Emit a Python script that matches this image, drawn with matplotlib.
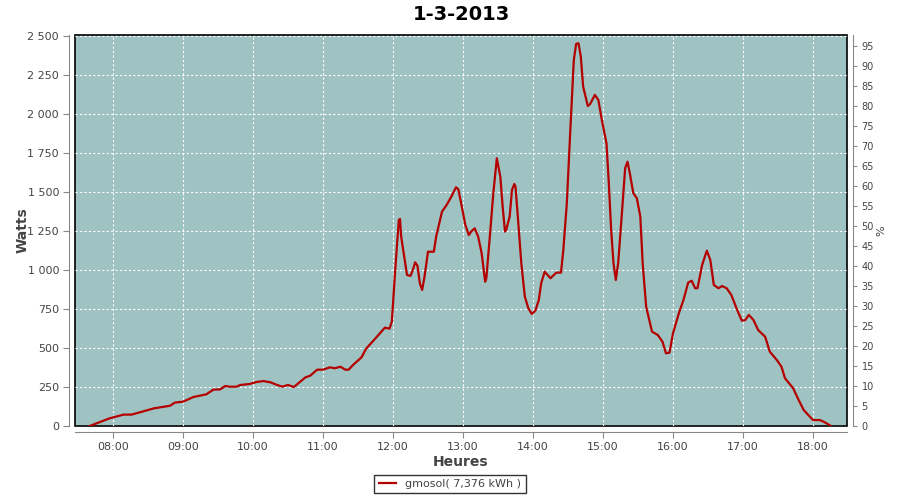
import matplotlib
matplotlib.use("Agg")
import matplotlib.pyplot as plt
from matplotlib.ticker import FuncFormatter, MultipleLocator

# données
title = "1-3-2013"
series_name = "gmosol( 7,376 kWh )"
hour_labels = ["08:00", "09:00", "10:00", "11:00", "12:00", "13:00",
               "14:00", "15:00", "16:00", "17:00", "18:00"]
times = ["07:40", "07:57", "08:09", "08:16", "08:23", "08:35", "08:49", "08:53",
         "09:00", "09:09", "09:20", "09:26", "09:32", "09:36", "09:40", "09:46",
         "09:49", "09:57", "10:03", "10:09", "10:15", "10:20", "10:25", "10:30",
         "10:35", "10:45", "10:49", "10:55", "11:00", "11:06", "11:10", "11:15",
         "11:19", "11:22", "11:26", "11:33", "11:37", "11:45", "11:53", "11:57",
         "11:59", "12:01", "12:02", "12:05", "12:06", "12:07", "12:10", "12:12",
         "12:15", "12:17", "12:19", "12:21", "12:23", "12:25", "12:27", "12:30",
         "12:35", "12:37", "12:42", "12:46", "12:50", "12:54", "12:56", "12:59",
         "13:02", "13:05", "13:07", "13:10", "13:13", "13:16", "13:19", "13:20",
         "13:23", "13:26", "13:29", "13:32", "13:34", "13:36", "13:37", "13:40",
         "13:42", "13:44", "13:45", "13:47", "13:50", "13:53", "13:56", "13:59",
         "14:02", "14:05", "14:07", "14:10", "14:15", "14:20", "14:24", "14:26",
         "14:29", "14:32", "14:35", "14:37", "14:39", "14:41", "14:43", "14:47",
         "14:49", "14:53", "14:56", "14:59", "15:03", "15:05", "15:07", "15:09",
         "15:11", "15:13", "15:16", "15:19", "15:21", "15:23", "15:26", "15:29",
         "15:32", "15:34", "15:37", "15:42", "15:47", "15:51", "15:54", "15:57",
         "16:00", "16:05", "16:09", "16:13", "16:16", "16:19", "16:21", "16:25",
         "16:29", "16:32", "16:35", "16:39", "16:42", "16:46", "16:50", "16:55",
         "16:59", "17:02", "17:05", "17:09", "17:13", "17:19", "17:23", "17:29",
         "17:33", "17:36", "17:43", "17:47", "17:52", "17:56", "18:00", "18:06",
         "18:10", "18:15"]
watts = [0, 49, 73, 73, 88, 113, 130, 150,
         156, 186, 203, 233, 235, 256, 252, 252,
         263, 269, 282, 288, 280, 265, 252, 263,
         250, 312, 322, 361, 361, 376, 370, 380,
         361, 361, 393, 440, 496, 562, 630, 624,
         669, 893, 1011, 1320, 1327, 1214, 1064, 968,
         962, 1000, 1049, 1026, 915, 872, 957, 1117,
         1117, 1214, 1374, 1417, 1470, 1530, 1517, 1406,
         1288, 1224, 1246, 1267, 1214, 1107, 925, 947,
         1214, 1492, 1716, 1598, 1406, 1246, 1256, 1342,
         1513, 1551, 1534, 1342, 1043, 829, 755, 718,
         739, 808, 915, 989, 947, 983, 983, 1128,
         1428, 1897, 2346, 2449, 2453, 2367, 2175, 2051,
         2064, 2122, 2090, 1962, 1812, 1556, 1256, 1043,
         936, 1043, 1342, 1652, 1694, 1620, 1492, 1460,
         1342, 1043, 765, 605, 583, 540, 466, 470,
         594, 722, 808, 919, 931, 883, 883, 1032,
         1124, 1064, 904, 883, 897, 883, 840, 744,
         675, 679, 712, 679, 615, 572, 476, 423,
         380, 306, 242, 178, 103, 71, 38, 38,
         24, 2]


def to_hours(s):
    h, m = s.split(":")
    return int(h) + int(m) / 60


x = [to_hours(t) for t in times]
tick_pos = [to_hours(t) for t in hour_labels]

bg = "#9ec3c2"
txt = "#444444"
axis_gray = "#888888"

fig = plt.figure(figsize=(9, 5), dpi=100)
ax = fig.add_axes([75 / 900, 74 / 500, 772 / 900, 391 / 500])
ax.set_facecolor(bg)

ax.plot(x, watts, color="#b40000", lw=1.6, label=series_name, zorder=3)

ax.set_xlim(7.457, 18.486)
ax.set_ylim(0, 2506)
ax.set_xticks(tick_pos)
ax.set_xticklabels(hour_labels)
ax.yaxis.set_major_locator(MultipleLocator(250))
ax.yaxis.set_major_formatter(FuncFormatter(lambda v, p: f"{int(v):,}".replace(",", " ")))
ax.grid(True, color="white", ls=(0, (2, 2)), lw=0.8)
ax.set_axisbelow(True)

# cadre noir autour du tracé
ax.patch.set_edgecolor("black")
ax.patch.set_linewidth(1.2)
for s in ["top", "right"]:
    ax.spines[s].set_visible(False)
for s in ["left", "bottom"]:
    ax.spines[s].set_position(("outward", 4))
    ax.spines[s].set_color(axis_gray)
ax.tick_params(colors=axis_gray, labelcolor=txt, labelsize=8, length=4)

ax.set_xlabel("Heures", fontsize=10, fontweight="bold", color=txt, labelpad=2)
ax.set_ylabel("Watts", fontsize=10, fontweight="bold", color=txt, labelpad=-2)
ax.set_title(title, fontsize=14, fontweight="bold", pad=11)

ax2 = ax.twinx()
ax2.set_ylim(0, 97.75)
ax2.yaxis.set_major_locator(MultipleLocator(5))
for s in ["top", "left", "bottom"]:
    ax2.spines[s].set_visible(False)
ax2.spines["right"].set_position(("outward", 4))
ax2.spines["right"].set_color(axis_gray)
ax2.tick_params(colors=axis_gray, labelcolor=txt, labelsize=7, length=3)
ax2.set_ylabel("%", fontsize=8, color=txt, labelpad=2)

fig.legend(loc="lower center", bbox_to_anchor=(0.5, 0.002), fontsize=8,
           frameon=True, fancybox=False, edgecolor="black", handlelength=1.6,
           borderpad=0.4, labelcolor=txt)

fig.savefig("out.png", dpi=100, facecolor="white")
